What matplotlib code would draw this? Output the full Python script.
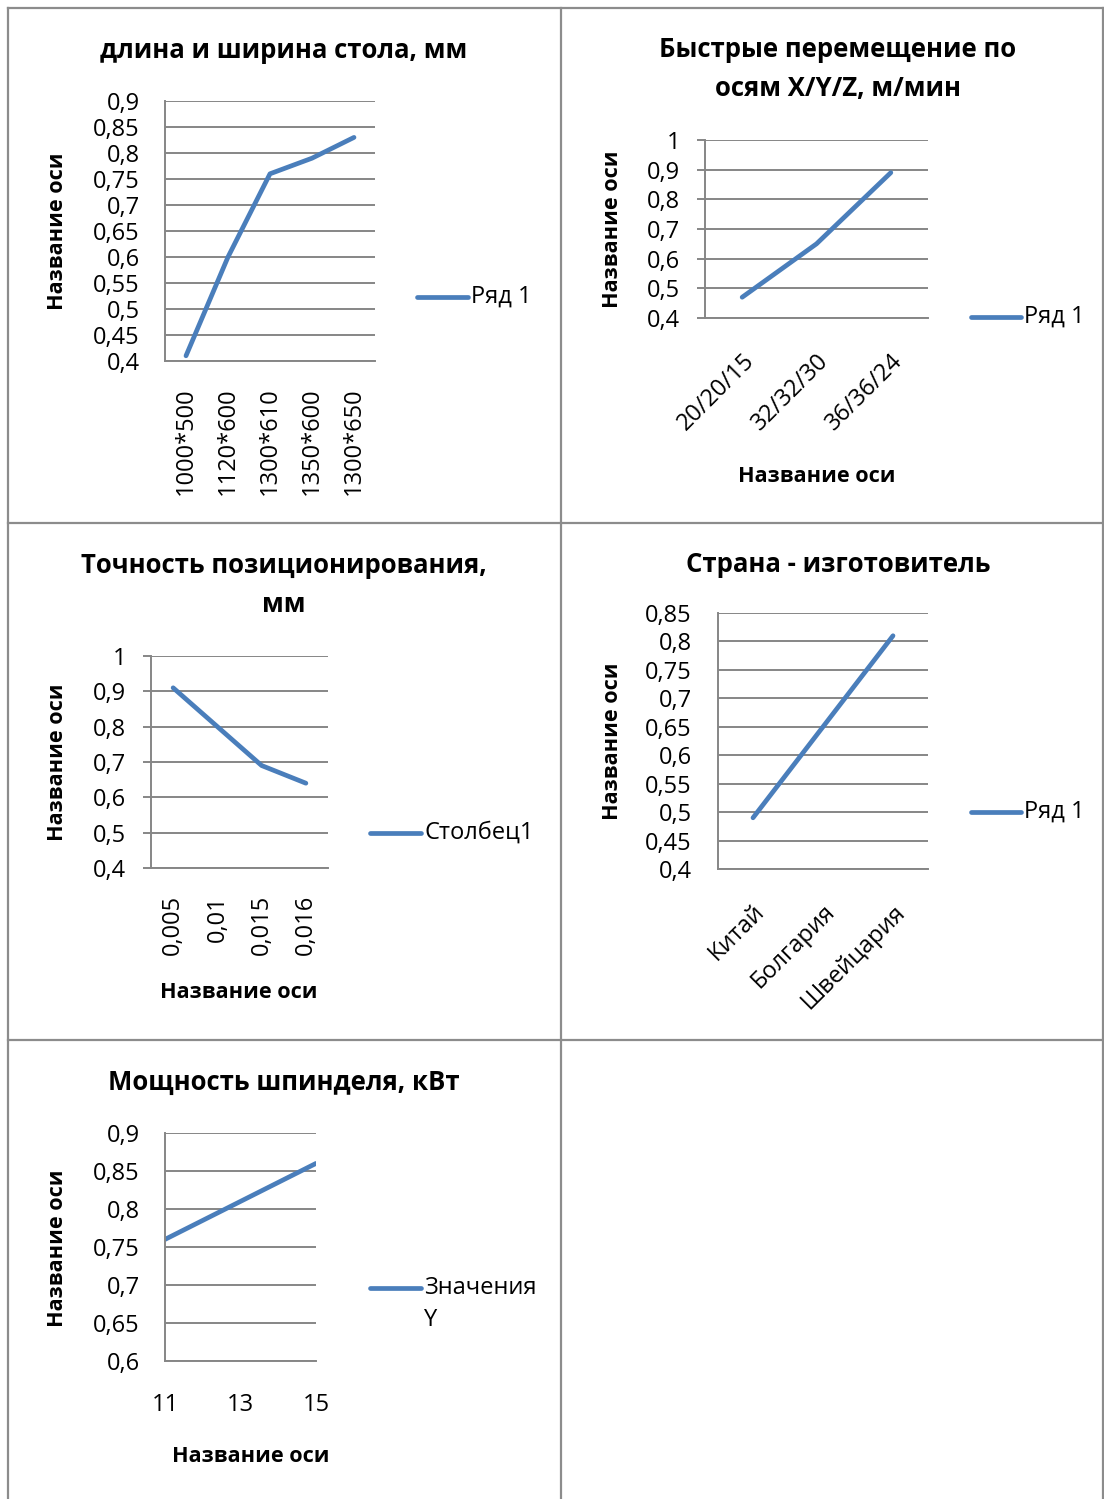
import matplotlib
matplotlib.use("Agg")
import matplotlib.pyplot as plt
from matplotlib.lines import Line2D

plt.rcParams['font.family'] = ['Open Sans', 'DejaVu Sans']

W, H = 1104, 1499
LINE = '#4a7ebb'
GRID = '#868686'
BORDER = '#8c8c8c'
PX = 0.72  # points per pixel at 100 dpi

# --- data ---
table_sizes = ['1000*500', '1120*600', '1300*610', '1350*600', '1300*650']
table_values = [0.41, 0.60, 0.76, 0.79, 0.83]

rapid_moves = ['20/20/15', '32/32/30', '36/36/24']
rapid_values = [0.47, 0.65, 0.89]

accuracy = ['0,005', '0,01', '0,015', '0,016']
accuracy_values = [0.91, 0.80, 0.69, 0.64]

countries = ['Китай', 'Болгария', 'Швейцария']
country_values = [0.49, 0.65, 0.81]

spindle_power = [11, 15]
spindle_values = [0.76, 0.86]

TICK_FS = 17
TITLE_FS = 18.5
LABEL_FS = 15.6

fig = plt.figure(figsize=(W / 100, H / 100), dpi=100)


def fx(x):
    return x / W


def fy(y):
    return 1 - y / H


def make_axes(x0, y0, x1, y1):
    return fig.add_axes([fx(x0), fy(y1), fx(x1) - fx(x0), fy(y0) - fy(y1)])


def fmt(v):
    s = ('%.2f' % v).rstrip('0').rstrip('.')
    return s.replace('.', ',')


def style_axes(ax, ymin, ymax, step, tick_px, pad_px):
    ax.set_ylim(ymin, ymax)
    n = int(round((ymax - ymin) / step))
    ticks = [ymin + i * step for i in range(n + 1)]
    ax.set_yticks(ticks)
    ax.set_yticklabels([fmt(t) for t in ticks])
    ax.yaxis.grid(True, color=GRID, linewidth=1.4)
    ax.set_axisbelow(True)
    for s in ('top', 'right'):
        ax.spines[s].set_visible(False)
    ax.spines['left'].set_color(GRID)
    ax.spines['left'].set_linewidth(1.4)
    ax.spines['bottom'].set_color(GRID)
    ax.spines['bottom'].set_linewidth(1.4)
    ax.tick_params(axis='y', length=tick_px * PX, width=1.4, color=GRID,
                   labelsize=TICK_FS, pad=pad_px * PX)
    ax.tick_params(axis='x', length=0, labelsize=TICK_FS)


def legend(x0, x1, y, label):
    fig.add_artist(Line2D([fx(x0), fx(x1)], [fy(y), fy(y)], color=LINE,
                          linewidth=3.4, solid_capstyle='round'))
    fig.text(fx(x1 + 3), fy(y), label, fontsize=TICK_FS, ha='left',
             va='center')


def ylabel(x, y):
    fig.text(fx(x), fy(y), 'Название оси', fontsize=LABEL_FS,
             fontweight='bold', rotation=90, ha='center', va='center')


def xlabel(x, y):
    fig.text(fx(x), fy(y), 'Название оси', fontsize=LABEL_FS,
             fontweight='bold', ha='center', va='center')


def title(x, y, text):
    fig.text(fx(x), fy(y), text, fontsize=TITLE_FS, fontweight='bold',
             ha='center', va='center', linespacing=1.58)


def category_plot(ax, cats, vals):
    idx = list(range(len(cats)))
    ax.plot(idx, vals, color=LINE, linewidth=3.4, solid_capstyle='round',
            solid_joinstyle='round')
    ax.set_xlim(-0.5, len(cats) - 0.5)
    ax.set_xticks(idx)


# 1. Table length and width
ax1 = make_axes(165, 101, 375, 361)
category_plot(ax1, table_sizes, table_values)
style_axes(ax1, 0.4, 0.9, 0.05, 0, 25)
ax1.set_xticklabels(table_sizes, rotation=90, va='top', ha='center')
ax1.tick_params(axis='x', pad=26 * PX)
title(284, 50, 'длина и ширина стола, мм')
ylabel(58, 231)
legend(417, 468, 297, 'Ряд 1')

# 2. Rapid traverse
ax2 = make_axes(705, 140, 928, 318)
category_plot(ax2, rapid_moves, rapid_values)
style_axes(ax2, 0.4, 1.0, 0.1, 8, 17)
ax2.set_xticklabels(rapid_moves, rotation=45, ha='right', va='top',
                    rotation_mode='anchor')
ax2.tick_params(axis='x', pad=31 * PX)
title(838, 69, 'Быстрые перемещение по\nосям X/Y/Z, м/мин')
ylabel(612, 229)
xlabel(817, 476)
legend(971, 1021, 317, 'Ряд 1')

# 3. Positioning accuracy
ax3 = make_axes(151, 656, 328, 868)
category_plot(ax3, accuracy, accuracy_values)
style_axes(ax3, 0.4, 1.0, 0.1, 8, 17)
ax3.set_xticklabels(accuracy, rotation=90, va='top', ha='center')
ax3.tick_params(axis='x', pad=27 * PX)
title(284, 585, 'Точность позиционирования,\nмм')
ylabel(58, 762)
xlabel(239, 992)
legend(370, 421, 833, 'Столбец1')

# 4. Country of origin
ax4 = make_axes(718, 613, 928, 869)
category_plot(ax4, countries, country_values)
style_axes(ax4, 0.4, 0.85, 0.05, 0, 26)
ax4.set_xticklabels(countries, rotation=45, ha='right', va='top',
                    rotation_mode='anchor')
ax4.tick_params(axis='x', pad=31 * PX)
title(838, 565, 'Страна - изготовитель')
ylabel(612, 741)
legend(971, 1021, 812, 'Ряд 1')

# 5. Spindle power
ax5 = make_axes(165, 1133, 316, 1361)
ax5.plot(spindle_power, spindle_values, color=LINE, linewidth=3.4,
         solid_capstyle='round')
ax5.set_xlim(11, 15)
ax5.set_xticks([11, 13, 15])
style_axes(ax5, 0.6, 0.9, 0.05, 0, 25)
ax5.tick_params(axis='x', pad=32 * PX)
title(284, 1082, 'Мощность шпинделя, кВт')
ylabel(58, 1248)
xlabel(251, 1457)
legend(370, 421, 1288, 'Значения')
fig.text(fx(424), fy(1320), 'Y', fontsize=TICK_FS, ha='left', va='center')

# Table grid around the charts
for x in (8, 561, 1103):
    fig.add_artist(Line2D([fx(x), fx(x)], [fy(8), fy(1499)], color=BORDER,
                          linewidth=1.6))
for y in (8, 523, 1040):
    fig.add_artist(Line2D([fx(8), fx(1104)], [fy(y), fy(y)], color=BORDER,
                          linewidth=1.6))

fig.savefig('out.png', dpi=100)
